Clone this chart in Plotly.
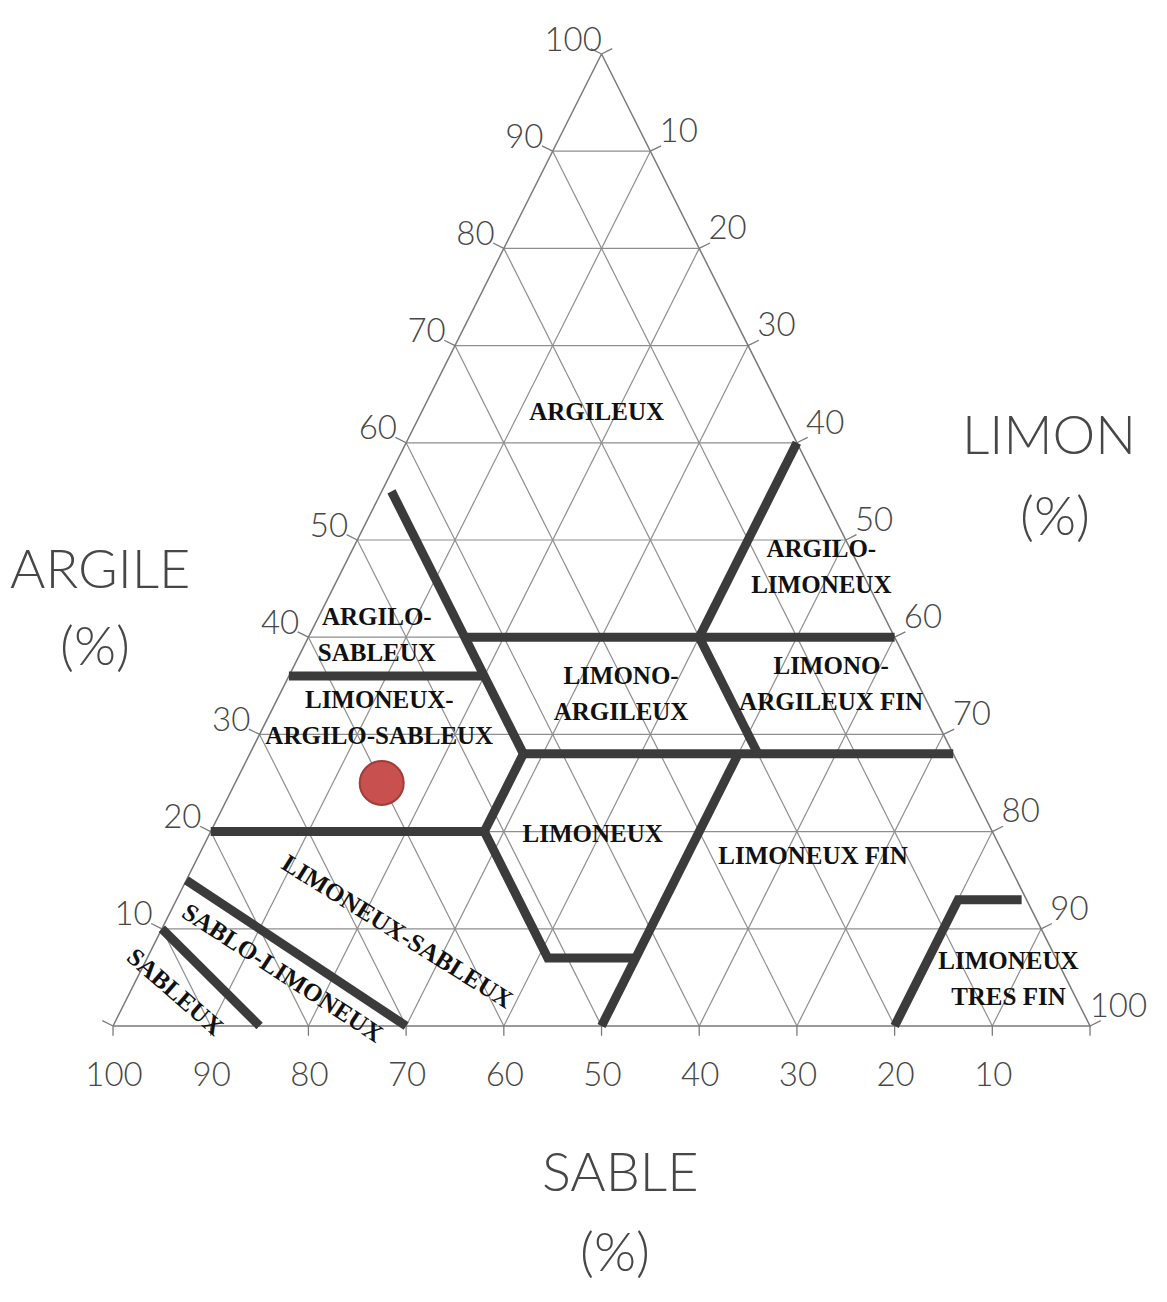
import plotly.graph_objects as go

# triangle textural : argile (gauche), sable (bas), limon (droite), en %
tick_vals = [10, 20, 30, 40, 50, 60, 70, 80, 90, 100]
grid_vals = [10, 20, 30, 40, 50, 60, 70, 80, 90]

# limites de classes, sommets en (argile, sable) ; limon = 100 - argile - sable
lim_limon_40 = [(60, 0), (40, 20)]
lim_argile_40 = [(40, 44), (40, 0)]
lim_sable_44 = [(55, 44), (28, 44)]
lim_argile_36 = [(36, 64), (36, 44)]
lim_argile_28 = [(28, 44), (28, 0)]
lim_limon_28 = [(28, 44), (20, 52)]
lim_argile_20 = [(20, 80), (20, 52)]
lim_sable_52 = [(20, 52), (7, 52), (7, 43)]
lim_limon_50 = [(28, 22), (0, 50)]
lim_sable_20 = [(40, 20), (28, 20)]
lim_tres_fin = [(0, 20), (13, 7), (13, 0.5)]
lim_sableux = [(10, 90), (0, 85)]
lim_sablo_limoneux = [(15, 85), (0, 70)]

# noms de classes horizontaux, centre en (argile, limon)
class_labels = ["ARGILEUX", "ARGILO-\nLIMONEUX", "ARGILO-\nSABLEUX",
                "LIMONEUX-\nARGILO-SABLEUX", "LIMONO-\nARGILEUX",
                "LIMONO-\nARGILEUX FIN", "LIMONEUX", "LIMONEUX FIN",
                "LIMONEUX\nTRES FIN"]
class_argile = [63, 47, 40, 31.5, 34, 35, 19.6, 17.3, 4.7]
class_limon = [18, 49, 7, 11.5, 35, 56, 39.3, 63, 89.3]

# noms de classes le long des limites obliques
diag_labels = ["SABLEUX", "SABLO-LIMONEUX", "LIMONEUX-SABLEUX"]
diag_argile = [3.5, 5.5, 9.7]
diag_limon = [4.6, 14.6, 24.3]
diag_angle = [41, 33, 32]

# echantillon
sample_argile = [25]
sample_sable = [60]


def xy(argile, sable):
    limon = 100 - argile - sable
    return limon + argile / 2, argile


def polyline(pts):
    xs, ys = [], []
    for a, s in pts:
        x, y = xy(a, s)
        xs.append(x)
        ys.append(y)
    return xs, ys


GRID = "#8e8e8e"
THICK = "#3b3b3b"
HAND = "Lato, Liberation Sans, sans-serif"
LABEL = "Liberation Serif, serif"

fig = go.Figure()

# grille
gx, gy = [], []
for k in grid_vals:
    for seg in ([(k, 100 - k), (k, 0)],            # argile constante
                [(100 - k, 0), (0, 100 - k)],      # limon constant
                [(100 - k, k), (0, k)]):           # sable constant
        xs, ys = polyline(seg)
        gx += xs + [None]
        gy += ys + [None]
fig.add_trace(go.Scatter(x=gx, y=gy, mode="lines", hoverinfo="skip",
                         line=dict(color=GRID, width=1.2)))

# bords et petites graduations
ex, ey = polyline([(0, 100), (100, 0), (0, 0), (0, 100)])
fig.add_trace(go.Scatter(x=ex, y=ey, mode="lines", hoverinfo="skip",
                         line=dict(color="#7a7a7a", width=1.5)))
tx, ty = [], []
for k in [0] + tick_vals:
    x, y = xy(k, 100 - k)
    tx += [x, x - 1.1, None]; ty += [y, y + 0.55, None]
    x, y = xy(100 - k, 0)
    tx += [x, x + 1.1, None]; ty += [y, y + 0.55, None]
    x, y = xy(0, k)
    tx += [x, x, None]; ty += [y, y - 1.0, None]
fig.add_trace(go.Scatter(x=tx, y=ty, mode="lines", hoverinfo="skip",
                         line=dict(color="#7a7a7a", width=1.3)))

# limites de classes
for pts in [lim_limon_40, lim_argile_40, lim_sable_44, lim_argile_36,
            lim_argile_28, lim_limon_28, lim_argile_20, lim_sable_52,
            lim_limon_50, lim_sable_20, lim_tres_fin, lim_sableux,
            lim_sablo_limoneux]:
    xs, ys = polyline(pts)
    fig.add_trace(go.Scatter(x=xs, y=ys, mode="lines", hoverinfo="skip",
                             line=dict(color=THICK, width=9)))

# graduations
lx, ly, lt = [], [], []
for k in tick_vals:
    x, y = xy(k, 100 - k)
    lx.append(x - 2.9); ly.append(y + 1.2); lt.append(str(k))
    x, y = xy(100 - k, 0)
    lx.append(x + 2.9); ly.append(y + 1.8); lt.append(str(k))
    x, y = xy(0, k)
    lx.append(x + 0.1); ly.append(y - 5.35); lt.append(str(k))
fig.add_trace(go.Scatter(x=lx, y=ly, text=lt, mode="text", hoverinfo="skip",
                         textfont=dict(family=HAND, size=33, color="#474747",
                                       weight=300)))

# noms de classes
cx, cy, ct = [], [], []
gap = 3.7
for name, a, l in zip(class_labels, class_argile, class_limon):
    lines = name.split("\n")
    for i, line in enumerate(lines):
        cx.append(l + a / 2)
        cy.append(a + (len(lines) - 1) * gap / 2 - i * gap)
        ct.append(line)
fig.add_trace(go.Scatter(x=cx, y=cy, text=ct, mode="text", hoverinfo="skip",
                         textfont=dict(family=LABEL, size=25, color="#111111",
                                       weight="bold")))

for name, a, l, ang in zip(diag_labels, diag_argile, diag_limon, diag_angle):
    fig.add_annotation(x=l + a / 2, y=a, xref="x", yref="y", text=name,
                       textangle=ang, showarrow=False,
                       font=dict(family=LABEL, size=25, color="#111111",
                                 weight="bold"))

# echantillon
px, py = polyline(zip(sample_argile, sample_sable))
fig.add_trace(go.Scatter(x=px, y=py, mode="markers", hoverinfo="skip",
                         marker=dict(size=44, color="#c8504e",
                                     line=dict(color="#a03c3a", width=2))))

# titres des axes
for text, x, y in [("ARGILE", 0.080, 0.565), ("(%)", 0.076, 0.505),
                   ("LIMON", 0.904, 0.669), ("(%)", 0.910, 0.606),
                   ("SABLE", 0.532, 0.096), ("(%)", 0.527, 0.034)]:
    fig.add_annotation(x=x, y=y, xref="paper", yref="paper", text=text,
                       xanchor="center", yanchor="middle", showarrow=False,
                       font=dict(family=HAND, size=54, color="#474747",
                                 weight=300))

fig.update_layout(
    width=1151, height=1286,
    margin=dict(l=0, r=0, t=0, b=0),
    paper_bgcolor="white", plot_bgcolor="white",
    showlegend=False,
    xaxis=dict(range=[-10.75, 107.06], visible=False, fixedrange=True),
    yaxis=dict(range=[-27.57, 104.73], visible=False, fixedrange=True),
)
fig.write_html("out.html")
